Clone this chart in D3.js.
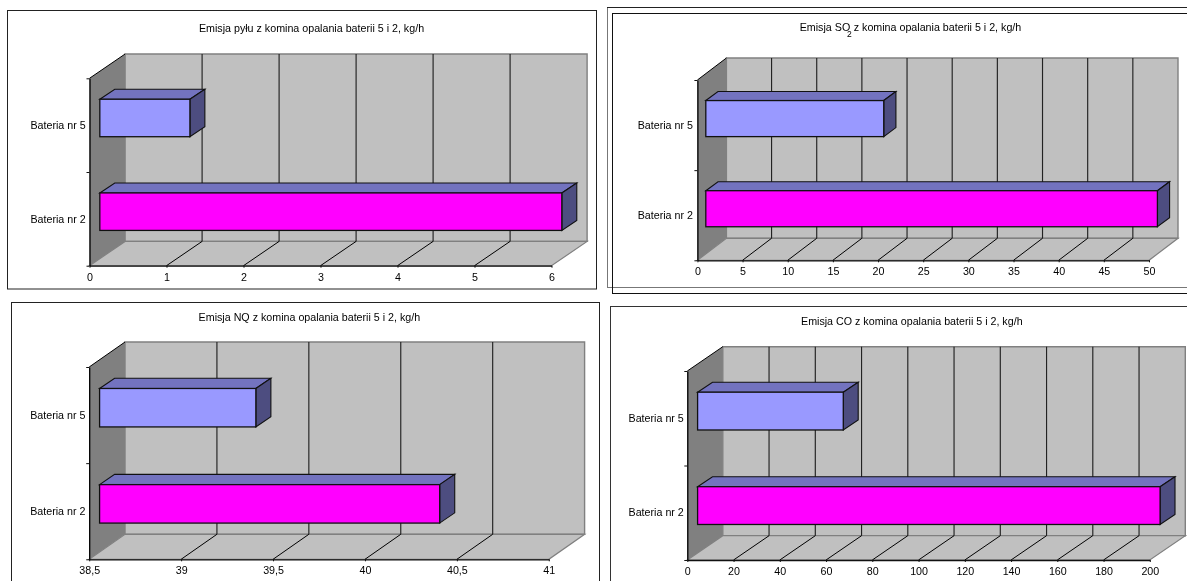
<!DOCTYPE html>
<html><head><meta charset="utf-8">
<script src="https://cdn.jsdelivr.net/npm/d3@7"></script>
<style>html,body{margin:0;padding:0;background:#fff;overflow:hidden}svg{display:block;filter:blur(0.3px)}text{font-family:"Liberation Sans",Arial,sans-serif;fill:#000}</style>
</head><body><svg id="c" width="1187" height="581"></svg>
<script>
const categories = ["Bateria nr 5", "Bateria nr 2"];
const pyluValues = [1.17, 6.0];
const so2Values = [19.7, 50.0];
const noValues = [39.35, 40.35];
const coValues = [63, 200];
const pyluTicks = [0, 1, 2, 3, 4, 5, 6];
const so2Ticks = [0, 5, 10, 15, 20, 25, 30, 35, 40, 45, 50];
const noTicks = [38.5, 39, 39.5, 40, 40.5, 41];
const coTicks = [0, 20, 40, 60, 80, 100, 120, 140, 160, 180, 200];
const tickLabelFormat = d => String(d).replace(".", ",");

const panels = [
 {title:["Emisja pyłu z komina opalania baterii 5 i 2, kg/h"], values:pyluValues, ticks:pyluTicks, x0:89.5,x1:551.5,yT:78.3,yB:265.7,dx:35.6,dy:24.3,tx:311.5,ty:28.3,lab:85.7},
 {title:["Emisja SO","2"," z komina opalania baterii 5 i 2, kg/h"], values:so2Values, ticks:so2Ticks, x0:697.4,x1:1149,yT:80,yB:260.3,dx:29,dy:22,tx:910.5,ty:27.3,lab:692.9},
 {title:["Emisja NQ z komina opalania baterii 5 i 2, kg/h"], values:noValues, ticks:noTicks, x0:89.2,x1:548.8,yT:367,yB:559.3,dx:35.8,dy:25,tx:309.4,ty:317.3,lab:85.4},
 {title:["Emisja CO z komina opalania baterii 5 i 2, kg/h"], values:coValues, ticks:coTicks, x0:687.3,x1:1149.8,yT:371,yB:560,dx:35.5,dy:24.3,tx:911.8,ty:321.3,lab:683.8}
];
const frames = [
 {x:7.5,y:10.5,w:589,h:278.5,c:"#222"},
 {x:607.5,y:7.5,w:600,h:280,c:"#777"},
 {x:612.5,y:13.5,w:600,h:280,c:"#111"},
 {x:11.5,y:302.5,w:588,h:300,c:"#222"},
 {x:610.5,y:306.5,w:600,h:300,c:"#333"}
];
const svg = d3.select("#c");
const FS = 10.7;
svg.selectAll("rect.frame").data(frames).join("rect").attr("class","frame")
  .attr("x",d=>d.x).attr("y",d=>d.y).attr("width",d=>d.w).attr("height",d=>d.h)
  .attr("fill","none").attr("stroke",d=>d.c).attr("stroke-width",1);
svg.append("line").attr("x1",607).attr("x2",1187).attr("y1",7.5).attr("y2",7.5).attr("stroke","#222");

const poly = pts => pts.map(p=>p.join(",")).join(" ");
panels.forEach(p=>{
  const g = svg.append("g");
  const dom = [p.ticks[0], p.ticks[p.ticks.length-1]];
  const x = d3.scaleLinear().domain(dom).range([p.x0,p.x1]);
  const yB = d3.scaleBand().domain(categories).range([p.yT,p.yB]).paddingInner(0.6).paddingOuter(0.3);
  const yEdge = d3.scaleLinear().domain([0,categories.length]).range([p.yT,p.yB]);
  const {x0,x1,yT,yB:yBot,dx,dy} = p;
  // walls and floor
  g.append("polygon").attr("points",poly([[x0,yT],[x0+dx,yT-dy],[x0+dx,yBot-dy],[x0,yBot]])).attr("fill","#808080");
  g.append("polygon").attr("points",poly([[x0+dx,yT-dy],[x1+dx,yT-dy],[x1+dx,yBot-dy],[x0+dx,yBot-dy]])).attr("fill","#c0c0c0").attr("stroke","#808080").attr("stroke-width",1.4);
  g.append("polygon").attr("points",poly([[x0,yBot],[x0+dx,yBot-dy],[x1+dx,yBot-dy],[x1,yBot]])).attr("fill","#c0c0c0").attr("stroke","#808080").attr("stroke-width",1.2);
  g.append("line").attr("x1",x0).attr("y1",yT).attr("x2",x0+dx).attr("y2",yT-dy).attr("stroke","#000");
  // gridlines
  const inner = p.ticks.slice(1,-1);
  g.selectAll("line.w").data(inner).join("line").attr("class","w")
    .attr("x1",d=>x(d)+dx).attr("x2",d=>x(d)+dx).attr("y1",yT-dy).attr("y2",yBot-dy).attr("stroke","#222").attr("stroke-width",1.15);
  g.selectAll("line.f").data(inner).join("line").attr("class","f")
    .attr("x1",d=>x(d)).attr("y1",yBot).attr("x2",d=>x(d)+dx).attr("y2",yBot-dy).attr("stroke","#000").attr("stroke-width",1);
  // bars
  const bdx = dx*0.42, bdy = dy*0.41, ix=(dx-bdx)/2, iy=(dy-bdy)/2;
  const base = x0+ix, h = yB.bandwidth();
  const colors = ["#9999ff","#ff00ff"];
  categories.forEach((c,i)=>{
    const xe = x(p.values[i])+ix, yt = yB(c)-iy;
    g.append("polygon").attr("points",poly([[base,yt],[base+bdx,yt-bdy],[xe+bdx,yt-bdy],[xe,yt]])).attr("fill","#7373bf").attr("stroke","#111").attr("stroke-width",1.1);
    g.append("polygon").attr("points",poly([[xe,yt],[xe+bdx,yt-bdy],[xe+bdx,yt+h-bdy],[xe,yt+h]])).attr("fill","#4d4d80").attr("stroke","#111").attr("stroke-width",1.1);
    g.append("rect").attr("x",base).attr("y",yt).attr("width",xe-base).attr("height",h).attr("fill",colors[i]).attr("stroke","#111").attr("stroke-width",1.3);
  });
  // axes
  const ax = g.append("g").attr("transform",`translate(0,${yBot})`)
    .call(d3.axisBottom(x).tickValues(p.ticks).tickFormat(tickLabelFormat).tickSize(2).tickSizeOuter(0).tickPadding(5.5));
  ax.selectAll("text").attr("font-size",FS).attr("fill","#000");
  ax.selectAll("line").attr("stroke","#111");
  ax.select(".domain").attr("stroke","#111").attr("stroke-width",1.3);
  const ay = g.append("g").attr("transform",`translate(${x0},0)`)
    .call(d3.axisLeft(yEdge).tickValues([0,1,2]).tickFormat("").tickSize(3).tickSizeOuter(0));
  ay.selectAll("line").attr("stroke","#111");
  ay.select(".domain").attr("stroke","#000").attr("stroke-width",1.3);
  // category labels
  g.selectAll("text.cat").data(categories).join("text").attr("class","cat")
    .attr("x",p.lab).attr("y",d=>yB(d)+yB.bandwidth()/2).attr("dy","0.35em")
    .attr("text-anchor","end").attr("font-size",FS).text(d=>d);
  // title
  const t = g.append("text").attr("x",p.tx).attr("y",p.ty).attr("dy","0.35em").attr("text-anchor","middle").attr("font-size",FS);
  if (p.title.length===1) t.text(p.title[0]);
  else {
    t.append("tspan").text(p.title[0]);
    t.append("tspan").attr("dx",-3.2).attr("dy",5.5).attr("font-size",8.5).text(p.title[1]);
    t.append("tspan").attr("dx",-1).attr("dy",-5.5).text(p.title[2]);
  }
});
</script></body></html>
